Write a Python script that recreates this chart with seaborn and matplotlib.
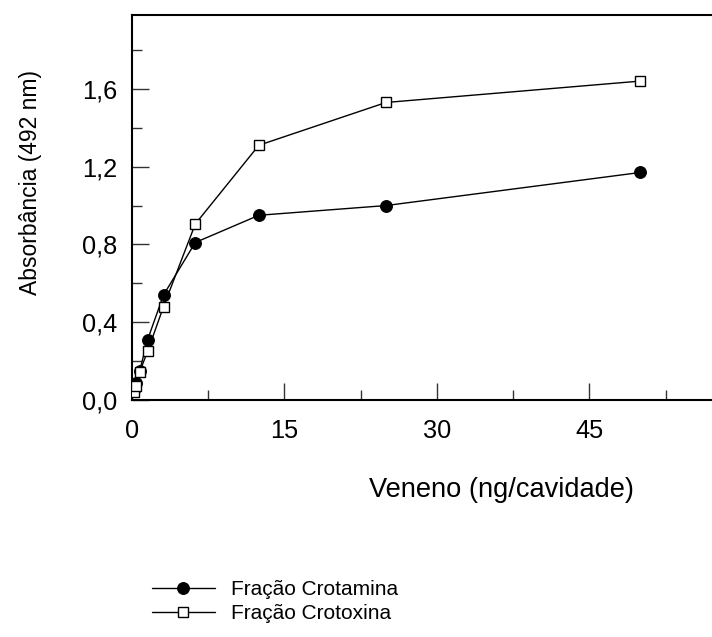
import matplotlib
matplotlib.use("Agg")
import matplotlib.pyplot as plt
import matplotlib.ticker as mticker
import seaborn as sns
import pandas as pd

# Venom amount (ng per well) and absorbance readings at 492 nm
veneno = [0.195, 0.39, 0.78, 1.56, 3.125, 6.25, 12.5, 25, 50]
crotamina = [0.05, 0.09, 0.15, 0.31, 0.54, 0.81, 0.95, 1.00, 1.17]
crotoxina = [0.04, 0.07, 0.145, 0.25, 0.48, 0.905, 1.31, 1.53, 1.64]

serie_labels = ["Fração Crotamina", "Fração Crotoxina"]
xticks = [0, 15, 30, 45]
yticks = [0.0, 0.4, 0.8, 1.2, 1.6]

sns.set_style("white")
plt.rcParams["font.family"] = ["Liberation Sans", "DejaVu Sans"]
for key in ["text.color", "axes.labelcolor", "xtick.color", "ytick.color"]:
    plt.rcParams[key] = "black"

fig = plt.figure(figsize=(7.12, 6.37), dpi=100)
ax = fig.add_axes([0.185, 0.372, 0.815, 0.6045])

df1 = pd.DataFrame({"x": veneno, "y": crotamina})
df2 = pd.DataFrame({"x": veneno, "y": crotoxina})

sns.lineplot(data=df1, x="x", y="y", ax=ax, color="black", linewidth=1.0,
             marker="o", markersize=8.5, markerfacecolor="black",
             markeredgecolor="black", label=serie_labels[0], zorder=3)
sns.lineplot(data=df2, x="x", y="y", ax=ax, color="black", linewidth=1.0,
             marker="s", markersize=7.5, markerfacecolor="white",
             markeredgecolor="black", markeredgewidth=1.0,
             label=serie_labels[1], zorder=4)

ax.set_xlim(0, 57.06)
ax.set_ylim(0, 1.98)
ax.set_xticks(xticks)
ax.set_yticks(yticks)
ax.xaxis.set_minor_locator(mticker.MultipleLocator(7.5))
ax.yaxis.set_minor_locator(mticker.MultipleLocator(0.2))

comma = mticker.FuncFormatter(lambda v, p: f"{v:.1f}".replace(".", ","))
ax.yaxis.set_major_formatter(comma)
ax.xaxis.set_major_formatter(mticker.FuncFormatter(lambda v, p: f"{v:.0f}"))

ax.tick_params(axis="both", which="both", bottom=True, left=True,
               top=False, right=False, direction="in")
ax.tick_params(axis="both", which="major", length=12, width=1.0,
               color="#333333", labelsize=18.3, labelcolor="black")
ax.tick_params(axis="both", which="minor", length=7, width=1.0,
               color="#333333")
ax.tick_params(axis="x", which="major", pad=14)
ax.tick_params(axis="y", which="major", pad=10.5)

for side in ["left", "bottom", "top"]:
    ax.spines[side].set_visible(True)
    ax.spines[side].set_color("black")
    ax.spines[side].set_linewidth(1.5)
ax.spines["right"].set_visible(False)

ax.set_xlabel("Veneno (ng/cavidade)", fontsize=19.6)
ax.xaxis.set_label_coords(0.638, -0.20)
ax.set_ylabel("Absorbância (492 nm)", fontsize=16.5)
ax.yaxis.set_label_coords(-0.155, 0.565)

handles, labels = ax.get_legend_handles_labels()
ax.get_legend().remove()
fig.legend(handles, labels, loc="upper left",
           bbox_to_anchor=(152 / 712, 1 - 580 / 637), frameon=False,
           handlelength=3.0, handletextpad=0.8, labelspacing=0.25,
           borderpad=0, borderaxespad=0, fontsize=15)

fig.savefig("out.png", dpi=100, facecolor="white")
